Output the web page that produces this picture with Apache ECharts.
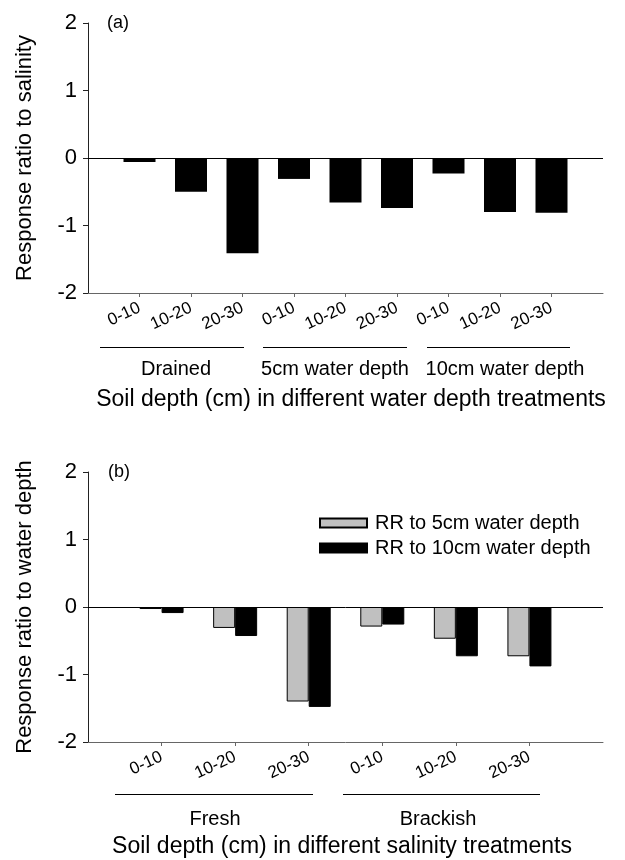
<!DOCTYPE html>
<html lang="en">
<head>
  <meta charset="UTF-8">
  <title>Response ratios by soil depth</title>
  <script src="https://cdn.jsdelivr.net/npm/echarts@6/dist/echarts.min.js"></script>
  <style>
    html, body { margin: 0; padding: 0; background: #fff; }
    #chart { width: 625px; height: 860px; }
  </style>
</head>
<body>
  <div id="chart"></div>

<script>
  // panel (a): response ratio to salinity
  const depthTicksA = ['0-10', '10-20', '20-30', '0-10', '10-20', '20-30', '0-10', '10-20', '20-30'];
  const rrSalinity = [-0.06, -0.50, -1.41, -0.31, -0.66, -0.74, -0.23, -0.80, -0.81];
  const groupsA = ['Drained', '5cm water depth', '10cm water depth'];

  // panel (b): response ratio to water depth
  const depthTicksB = ['0-10', '10-20', '20-30', '0-10', '10-20', '20-30'];
  const rr5cm = [-0.03, -0.31, -1.40, -0.29, -0.47, -0.73];
  const rr10cm = [-0.09, -0.43, -1.48, -0.26, -0.73, -0.88];
  const groupsB = ['Fresh', 'Brackish'];
  const seriesNamesB = ['RR to 5cm water depth', 'RR to 10cm water depth'];

  const yTicks = [-2, -1, 0, 1, 2];

  const FONT = '"Liberation Sans", Arial, sans-serif';

  function xAxisFor(gridIndex, ticks) {
    const pos = ticks.map((t, i) => i + 1);
    return {
      type: 'value',
      gridIndex: gridIndex,
      min: 0,
      max: ticks.length + 1,
      interval: 1,
      splitLine: { show: false },
      axisLine: { onZero: false, lineStyle: { color: '#666', width: 1 } },
      axisTick: { customValues: pos, length: 4, lineStyle: { color: '#666' } },
      axisLabel: {
        customValues: pos,
        rotate: 25,
        margin: 14,
        fontSize: 17,
        fontFamily: FONT,
        color: '#000',
        formatter: v => ticks[v - 1] || ''
      }
    };
  }

  function yAxisFor(gridIndex, name) {
    return {
      type: 'value',
      gridIndex: gridIndex,
      min: yTicks[0],
      max: yTicks[yTicks.length - 1],
      interval: 1,
      name: name,
      nameLocation: 'middle',
      nameGap: 52,
      nameTextStyle: { fontSize: 22, fontFamily: FONT, color: '#000' },
      splitLine: { show: false },
      axisLine: { show: true, lineStyle: { color: '#222', width: 1 } },
      axisTick: { show: true, length: 5, lineStyle: { color: '#222' } },
      axisLabel: { fontSize: 22, fontFamily: FONT, color: '#000', margin: 11 }
    };
  }

  const zeroLine = {
    silent: true,
    symbol: 'none',
    label: { show: false },
    lineStyle: { color: '#000', width: 1, type: 'solid' },
    data: [{ yAxis: 0 }]
  };

  function txt(text, x, y, size, align) {
    return {
      type: 'text',
      x: x,
      y: y,
      style: {
        text: text,
        font: size + 'px ' + FONT,
        fill: '#000',
        align: align || 'center',
        verticalAlign: 'middle'
      }
    };
  }

  // thin bracket line under a group of ticks
  function hline(x1, x2, y) {
    return {
      type: 'line',
      shape: { x1: x1, y1: y + 0.5, x2: x2, y2: y + 0.5 },
      style: { stroke: '#000', lineWidth: 1 }
    };
  }

  const chart = echarts.init(document.getElementById('chart'));

  const option = {
    backgroundColor: '#fff',
    animation: false,
    grid: [
      { left: 88, width: 515, top: 23, height: 270 },
      { left: 88, width: 515, top: 472, height: 270 }
    ],
    xAxis: [xAxisFor(0, depthTicksA), xAxisFor(1, depthTicksB)],
    yAxis: [
      yAxisFor(0, 'Response ratio to salinity'),
      yAxisFor(1, 'Response ratio to water depth')
    ],
    legend: {
      orient: 'vertical',
      left: 314,
      top: 508,
      icon: 'rect',
      itemWidth: 47,
      itemHeight: 9,
      itemGap: 5,
      textStyle: { fontSize: 20, fontFamily: FONT, color: '#000', padding: [0, 0, 0, 3], lineHeight: 19 },
      data: seriesNamesB
    },
    series: [
      {
        type: 'bar',
        xAxisIndex: 0,
        yAxisIndex: 0,
        barWidth: 32,
        itemStyle: { color: '#000' },
        data: rrSalinity.map((v, i) => [i + 1, v]),
        markLine: zeroLine
      },
      {
        name: seriesNamesB[0],
        type: 'bar',
        xAxisIndex: 1,
        yAxisIndex: 1,
        barWidth: 22,
        barGap: '0%',
        itemStyle: { color: '#c0c0c0', borderColor: '#000', borderWidth: 1 },
        data: rr5cm.map((v, i) => [i + 1, v]),
        markLine: zeroLine
      },
      {
        name: seriesNamesB[1],
        type: 'bar',
        xAxisIndex: 1,
        yAxisIndex: 1,
        barWidth: 22,
        barGap: '0%',
        itemStyle: { color: '#000', borderColor: '#000', borderWidth: 1 },
        data: rr10cm.map((v, i) => [i + 1, v])
      }
    ],
    graphic: [
      txt('(a)', 107, 23, 18, 'left'),
      txt('(b)', 108, 472, 18, 'left'),

      // group brackets, panel (a)
      hline(100, 244, 347),
      hline(263, 407, 347),
      hline(427, 570, 347),
      txt(groupsA[0], 176, 369, 20),
      txt(groupsA[1], 335, 369, 20),
      txt(groupsA[2], 505, 369, 20),
      txt('Soil depth (cm) in different water depth treatments', 351, 400, 23),

      // group brackets, panel (b)
      hline(115, 313, 794),
      hline(343, 540, 794),
      txt(groupsB[0], 215, 819, 20),
      txt(groupsB[1], 438, 819, 20),
      txt('Soil depth (cm) in different salinity treatments', 342, 847, 23)
    ]
  };

  chart.setOption(option);
</script>
</body>
</html>
